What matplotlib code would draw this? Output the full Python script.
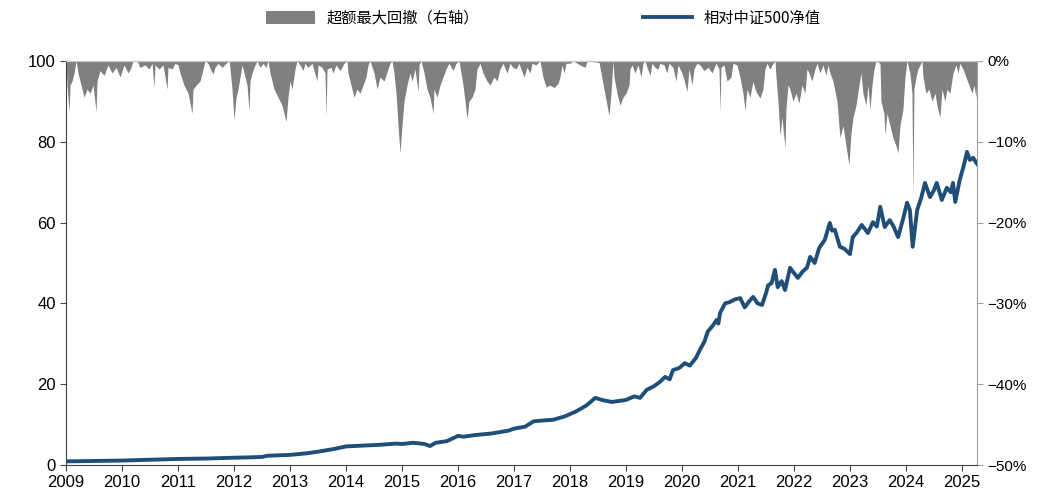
import matplotlib.pyplot as plt
import numpy as np

plt.rcParams['font.family'] = ['Liberation Sans Narrow', 'Liberation Sans', 'DejaVu Sans']

# 相对中证500净值 (年份, 净值)
nav_points = [
    (2009.0, 0.9), (2009.5, 1.0), (2010.0, 1.1), (2010.5, 1.3), (2011.0, 1.5), (2011.5, 1.6),
    (2012.0, 1.8), (2012.3, 1.9), (2012.5, 2.0), (2012.6, 2.3), (2013.0, 2.5), (2013.3, 2.9),
    (2013.5, 3.3), (2013.8, 4.0), (2014.0, 4.6), (2014.3, 4.8), (2014.6, 5.0), (2014.9, 5.3),
    (2015.0, 5.2), (2015.2, 5.5), (2015.4, 5.2), (2015.5, 4.7), (2015.6, 5.5), (2015.8, 5.9),
    (2016.0, 7.2), (2016.1, 7.0), (2016.3, 7.4), (2016.6, 7.8), (2016.9, 8.5), (2017.0, 9.0),
    (2017.2, 9.5), (2017.35, 10.8), (2017.5, 11.0), (2017.7, 11.2), (2017.9, 12.0), (2018.1, 13.2),
    (2018.3, 14.8), (2018.45, 16.6), (2018.6, 16.0), (2018.75, 15.6), (2018.9, 15.9), (2019.0, 16.1),
    (2019.15, 17.0), (2019.25, 16.6), (2019.37, 18.6), (2019.5, 19.5), (2019.6, 20.5), (2019.7, 21.8),
    (2019.78, 21.2), (2019.84, 23.5), (2019.95, 24.0), (2020.05, 25.2), (2020.14, 24.6), (2020.25, 26.5),
    (2020.32, 28.5), (2020.4, 30.5), (2020.46, 33.0), (2020.55, 34.5), (2020.62, 35.9), (2020.65, 35.0),
    (2020.68, 37.6), (2020.77, 40.0), (2020.85, 40.3), (2020.95, 41.0), (2021.04, 41.3), (2021.12, 39.0),
    (2021.2, 40.5), (2021.27, 41.6), (2021.35, 40.0), (2021.43, 39.6), (2021.5, 42.5), (2021.54, 44.5),
    (2021.6, 45.0), (2021.66, 48.3), (2021.71, 44.0), (2021.78, 45.5), (2021.84, 43.3), (2021.93, 48.8),
    (2022.0, 47.5), (2022.07, 46.3), (2022.15, 47.8), (2022.23, 48.8), (2022.29, 51.5), (2022.37, 50.0),
    (2022.45, 53.7), (2022.55, 55.7), (2022.64, 59.9), (2022.68, 58.0), (2022.73, 58.2), (2022.82, 54.0),
    (2022.9, 53.5), (2023.0, 52.2), (2023.05, 56.4), (2023.12, 57.5), (2023.21, 59.4), (2023.32, 57.4),
    (2023.41, 60.1), (2023.48, 59.0), (2023.54, 63.9), (2023.62, 58.9), (2023.71, 60.6), (2023.78, 59.0),
    (2023.86, 56.4), (2023.95, 61.0), (2024.02, 64.9), (2024.07, 63.1), (2024.12, 54.0), (2024.2, 63.1),
    (2024.27, 66.0), (2024.34, 69.8), (2024.43, 66.3), (2024.5, 68.0), (2024.55, 69.8), (2024.64, 65.6),
    (2024.73, 68.6), (2024.8, 67.5), (2024.84, 69.8), (2024.88, 65.1), (2024.96, 70.5), (2025.04, 74.5),
    (2025.09, 77.5), (2025.14, 75.5), (2025.2, 76.0), (2025.27, 74.5),
]

# 超额最大回撤 (年份, 回撤 %)
dd_points = [
    (2009.0, 0), (2009.018, 3.0), (2009.054, 6.3), (2009.071, 3.0), (2009.107, 2.5), (2009.143, 1.5),
    (2009.179, 0), (2009.214, 1.5), (2009.268, 3.0), (2009.321, 4.5), (2009.375, 3.5), (2009.429, 4.0),
    (2009.482, 3.0), (2009.536, 6.3), (2009.554, 2.5), (2009.607, 1.2), (2009.679, 1.8), (2009.75, 0.5),
    (2009.821, 1.5), (2009.893, 0.8), (2009.964, 2.0), (2010.036, 0.5), (2010.107, 1.5), (2010.161, 0.8),
    (2010.196, 0), (2010.268, 0), (2010.321, 0.8), (2010.411, 0.5), (2010.482, 1.0), (2010.536, 0.3),
    (2010.571, 3.3), (2010.589, 0.5), (2010.661, 1.0), (2010.732, 0.5), (2010.804, 3.5), (2010.821, 0.8),
    (2010.893, 1.0), (2010.946, 0.3), (2011.0, 0.5), (2011.036, 1.5), (2011.107, 3.0), (2011.179, 4.0),
    (2011.25, 6.5), (2011.268, 3.5), (2011.321, 3.0), (2011.393, 2.5), (2011.446, 1.0), (2011.482, 0),
    (2011.536, 0.3), (2011.589, 1.2), (2011.625, 1.6), (2011.661, 0.8), (2011.714, 0.3), (2011.786, 0.8),
    (2011.857, 0.3), (2011.911, 0), (2011.929, 1.0), (2011.964, 3.5), (2012.0, 7.3), (2012.036, 4.5),
    (2012.071, 3.5), (2012.107, 2.0), (2012.143, 0.5), (2012.179, 1.5), (2012.232, 3.0), (2012.268, 6.2),
    (2012.286, 2.5), (2012.321, 1.5), (2012.375, 0.5), (2012.411, 0), (2012.464, 0.8), (2012.518, 0.3),
    (2012.571, 0.8), (2012.607, 0), (2012.643, 1.5), (2012.714, 3.5), (2012.786, 4.5), (2012.857, 5.5),
    (2012.929, 7.5), (2012.964, 4.5), (2013.0, 2.5), (2013.036, 3.5), (2013.089, 1.0), (2013.125, 0),
    (2013.179, 0.5), (2013.232, 1.2), (2013.268, 0.3), (2013.321, 0.8), (2013.393, 0.3), (2013.482, 2.5),
    (2013.5, 0.5), (2013.571, 0.8), (2013.625, 1.5), (2013.643, 6.9), (2013.661, 1.0), (2013.732, 0.8),
    (2013.768, 1.5), (2013.821, 0.5), (2013.893, 1.2), (2013.964, 0.3), (2014.018, 0), (2014.036, 1.5),
    (2014.089, 3.0), (2014.143, 4.5), (2014.196, 3.5), (2014.25, 4.0), (2014.304, 3.0), (2014.357, 2.0),
    (2014.393, 0.5), (2014.429, 0), (2014.5, 1.5), (2014.554, 3.5), (2014.607, 2.0), (2014.679, 2.5),
    (2014.75, 1.0), (2014.786, 0.3), (2014.821, 0), (2014.857, 1.5), (2014.893, 4.0), (2014.929, 8.0),
    (2014.964, 11.4), (2015.0, 8.0), (2015.036, 5.0), (2015.089, 3.0), (2015.143, 1.5), (2015.179, 2.5),
    (2015.232, 1.0), (2015.286, 3.8), (2015.304, 0.5), (2015.339, 0), (2015.393, 1.5), (2015.446, 3.5),
    (2015.5, 4.5), (2015.554, 6.5), (2015.571, 3.5), (2015.625, 4.5), (2015.679, 3.0), (2015.732, 2.0),
    (2015.786, 1.0), (2015.839, 0.3), (2015.911, 1.2), (2015.964, 0.3), (2016.018, 0), (2016.089, 3.0),
    (2016.125, 5.0), (2016.161, 7.2), (2016.196, 5.0), (2016.25, 4.5), (2016.304, 3.5), (2016.339, 1.0),
    (2016.393, 0.3), (2016.446, 1.5), (2016.518, 2.5), (2016.571, 3.0), (2016.643, 2.0), (2016.696, 2.5),
    (2016.75, 1.0), (2016.804, 0.3), (2016.875, 1.5), (2016.929, 0.3), (2016.982, 0.8), (2017.036, 1.0),
    (2017.089, 0.3), (2017.125, 1.0), (2017.179, 2.0), (2017.232, 0.8), (2017.286, 1.5), (2017.321, 0.3),
    (2017.393, 0.5), (2017.464, 0), (2017.518, 2.0), (2017.571, 3.2), (2017.643, 3.0), (2017.714, 3.3),
    (2017.786, 2.8), (2017.821, 2.0), (2017.857, 0.5), (2017.893, 1.5), (2017.929, 0.3), (2018.0, 0.3),
    (2018.054, 0), (2018.179, 0.5), (2018.268, 0.8), (2018.304, 0), (2018.518, 0.2), (2018.554, 1.5),
    (2018.607, 3.5), (2018.661, 5.5), (2018.696, 6.8), (2018.732, 4.0), (2018.768, 0), (2018.786, 2.0),
    (2018.839, 4.0), (2018.893, 5.5), (2018.946, 4.5), (2019.0, 4.0), (2019.054, 3.0), (2019.071, 1.0),
    (2019.107, 0.5), (2019.161, 1.5), (2019.214, 0.5), (2019.268, 2.0), (2019.304, 0.3), (2019.339, 0),
    (2019.375, 0.8), (2019.429, 1.8), (2019.464, 0.3), (2019.518, 0.8), (2019.571, 1.0), (2019.607, 0.3),
    (2019.679, 0.5), (2019.732, 1.5), (2019.768, 0.3), (2019.839, 0.8), (2019.893, 2.5), (2019.929, 0.5),
    (2020.0, 1.5), (2020.054, 2.8), (2020.089, 3.8), (2020.125, 1.0), (2020.179, 3.0), (2020.214, 1.0),
    (2020.268, 0.3), (2020.321, 0.5), (2020.393, 1.2), (2020.464, 0.8), (2020.536, 1.5), (2020.607, 0.3),
    (2020.661, 1.0), (2020.679, 6.3), (2020.696, 0.8), (2020.75, 0.5), (2020.804, 2.5), (2020.875, 2.0),
    (2020.911, 0.3), (2020.982, 0.5), (2021.036, 2.0), (2021.089, 4.0), (2021.125, 6.1), (2021.161, 3.5),
    (2021.214, 4.5), (2021.268, 2.5), (2021.304, 3.5), (2021.339, 4.0), (2021.393, 4.6), (2021.446, 3.5),
    (2021.482, 1.0), (2021.518, 0.3), (2021.571, 1.0), (2021.625, 0.3), (2021.661, 0), (2021.679, 2.0),
    (2021.714, 5.0), (2021.75, 9.2), (2021.786, 7.0), (2021.839, 10.8), (2021.857, 6.0), (2021.893, 3.0),
    (2021.929, 3.5), (2021.982, 5.0), (2022.036, 4.0), (2022.089, 5.2), (2022.143, 3.0), (2022.196, 4.0),
    (2022.232, 1.0), (2022.268, 1.5), (2022.321, 2.5), (2022.375, 1.0), (2022.411, 0.3), (2022.464, 1.5),
    (2022.518, 0.5), (2022.571, 1.8), (2022.607, 0.5), (2022.643, 1.5), (2022.696, 2.5), (2022.768, 5.0),
    (2022.821, 9.5), (2022.875, 8.0), (2022.929, 10.5), (2022.982, 12.9), (2023.018, 9.0), (2023.054, 7.0),
    (2023.107, 5.5), (2023.161, 3.0), (2023.196, 1.5), (2023.232, 4.0), (2023.286, 5.5), (2023.321, 3.0),
    (2023.357, 6.0), (2023.393, 3.0), (2023.429, 1.0), (2023.464, 0), (2023.536, 0.3), (2023.554, 5.0),
    (2023.607, 6.5), (2023.625, 9.2), (2023.661, 6.5), (2023.714, 8.0), (2023.768, 9.5), (2023.821, 10.5),
    (2023.857, 11.4), (2023.893, 8.0), (2023.946, 6.0), (2023.982, 2.0), (2024.018, 0), (2024.071, 1.5),
    (2024.107, 4.0), (2024.125, 17.0), (2024.143, 3.5), (2024.179, 2.0), (2024.214, 1.0), (2024.25, 0.5),
    (2024.286, 0), (2024.304, 2.0), (2024.357, 4.0), (2024.411, 3.5), (2024.464, 5.0), (2024.518, 4.0),
    (2024.554, 5.5), (2024.607, 7.0), (2024.643, 3.5), (2024.696, 5.0), (2024.732, 3.5), (2024.786, 4.0),
    (2024.839, 1.5), (2024.893, 0.5), (2024.929, 1.5), (2024.964, 0.3), (2025.018, 1.0), (2025.071, 2.0),
    (2025.125, 3.0), (2025.179, 4.0), (2025.214, 3.0), (2025.25, 4.5), (2025.268, 2.0),
]

nav_year, nav_value = np.array(nav_points).T
dd_year, dd_value = np.array(dd_points).T
years = np.arange(2009, 2026)

fig, ax = plt.subplots(figsize=(10.45, 4.95), dpi=100)
fig.subplots_adjust(left=0.0632, right=0.935, bottom=0.0606, top=0.877)
ax2 = ax.twinx()

ax2.fill_between(dd_year, -dd_value, 0, color='#808080', lw=0,
                 label='超额最大回撤（右轴）')
ax2.set_ylim(-50, 0)
ax2.set_yticks([0, -10, -20, -30, -40, -50])
ax2.set_yticklabels(['0%', '−10%', '−20%', '−30%', '−40%', '−50%'],
                    family=['Liberation Sans', 'DejaVu Sans'], fontsize=11)

ax.plot(nav_year, nav_value, color='#1F4E79', lw=2.8, label='相对中证500净值')
ax.set_zorder(ax2.get_zorder() + 1)
ax.patch.set_visible(False)

ax.set_xlim(2009, 2025.27)
ax.set_ylim(0, 100)
ax.set_yticks([0, 20, 40, 60, 80, 100])
ax.set_xticks(years)
ax.set_xticklabels([str(y) for y in years])
ax.tick_params(axis='both', labelsize=12, length=4, color='#404040')
ax2.tick_params(axis='y', length=4, color='#A0A0A0')

for s in ['left', 'bottom']:
    ax.spines[s].set_color('#404040')
ax.spines['top'].set_color('#C8C8C8')
ax.spines['right'].set_visible(False)
ax2.spines['left'].set_visible(False)
ax2.spines['bottom'].set_visible(False)
ax2.spines['top'].set_color('#C8C8C8')
ax2.spines['right'].set_color('#A0A0A0')

h1, l1 = ax2.get_legend_handles_labels()
h2, l2 = ax.get_legend_handles_labels()
fig.legend(h1 + h2, l1 + l2, loc='upper center', bbox_to_anchor=(0.52, 1.008), ncol=2,
           frameon=False, prop={'family': ['Noto Sans CJK SC', 'DejaVu Sans'], 'size': 11},
           columnspacing=10.7, handlelength=3.2, handleheight=0.9)

fig.savefig('out.png', dpi=100)
